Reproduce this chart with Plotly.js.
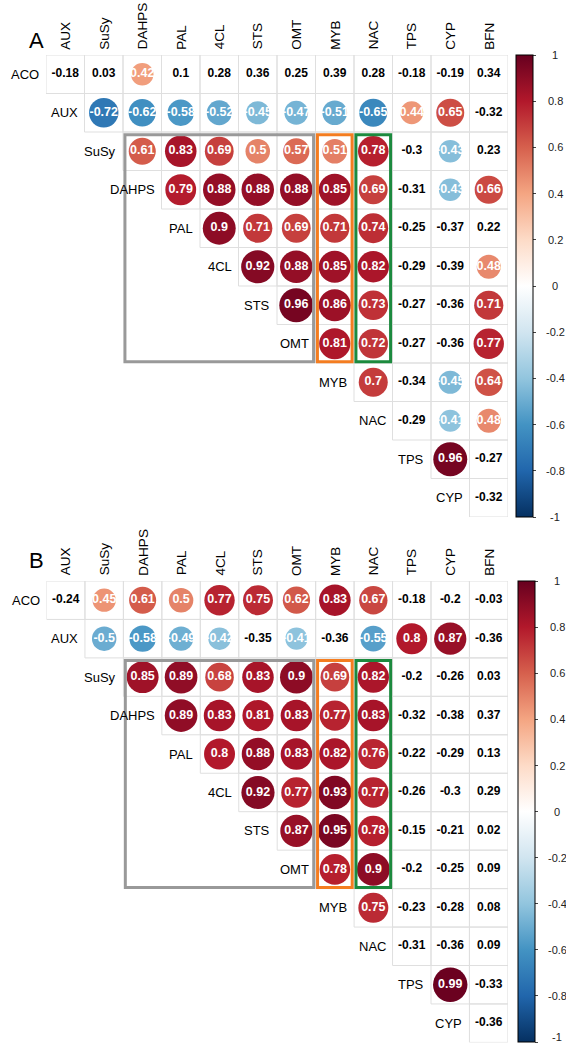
<!DOCTYPE html>
<html><head><meta charset="utf-8">
<script src="https://cdn.plot.ly/plotly-3.0.1.min.js"></script>
<style>html,body{margin:0;padding:0;background:#fff;}#chart{width:566px;height:1045px;}</style>
</head><body><div id="chart"></div>
<script>
// ---- data ----
const rowLabels = ["ACO","AUX","SuSy","DAHPS","PAL","4CL","STS","OMT","MYB","NAC","TPS","CYP"];
const colLabels = ["AUX","SuSy","DAHPS","PAL","4CL","STS","OMT","MYB","NAC","TPS","CYP","BFN"];

// Panel A (upper triangle, row by row, starting at the diagonal column)
const A_ACO   = [-0.18, 0.03, 0.42, 0.1, 0.28, 0.36, 0.25, 0.39, 0.28, -0.18, -0.19, 0.34];
const A_AUX   = [-0.72, -0.62, -0.58, -0.52, -0.45, -0.47, -0.51, -0.65, 0.44, 0.65, -0.32];
const A_SuSy  = [0.61, 0.83, 0.69, 0.5, 0.57, 0.51, 0.78, -0.3, -0.43, 0.23];
const A_DAHPS = [0.79, 0.88, 0.88, 0.88, 0.85, 0.69, -0.31, -0.43, 0.66];
const A_PAL   = [0.9, 0.71, 0.69, 0.71, 0.74, -0.25, -0.37, 0.22];
const A_4CL   = [0.92, 0.88, 0.85, 0.82, -0.29, -0.39, 0.48];
const A_STS   = [0.96, 0.86, 0.73, -0.27, -0.36, 0.71];
const A_OMT   = [0.81, 0.72, -0.27, -0.36, 0.77];
const A_MYB   = [0.7, -0.34, -0.45, 0.64];
const A_NAC   = [-0.29, -0.41, 0.48];
const A_TPS   = [0.96, -0.27];
const A_CYP   = [-0.32];

// Panel B
const B_ACO   = [-0.24, 0.45, 0.61, 0.5, 0.77, 0.75, 0.62, 0.83, 0.67, -0.18, -0.2, -0.03];
const B_AUX   = [-0.5, -0.58, -0.49, -0.42, -0.35, -0.41, -0.36, -0.55, 0.8, 0.87, -0.36];
const B_SuSy  = [0.85, 0.89, 0.68, 0.83, 0.9, 0.69, 0.82, -0.2, -0.26, 0.03];
const B_DAHPS = [0.89, 0.83, 0.81, 0.83, 0.77, 0.83, -0.32, -0.38, 0.37];
const B_PAL   = [0.8, 0.88, 0.83, 0.82, 0.76, -0.22, -0.29, 0.13];
const B_4CL   = [0.92, 0.77, 0.93, 0.77, -0.26, -0.3, 0.29];
const B_STS   = [0.87, 0.95, 0.78, -0.15, -0.21, 0.02];
const B_OMT   = [0.78, 0.9, -0.2, -0.25, 0.09];
const B_MYB   = [0.75, -0.23, -0.28, 0.08];
const B_NAC   = [-0.31, -0.36, 0.09];
const B_TPS   = [0.99, -0.33];
const B_CYP   = [-0.36];

const panelA = [A_ACO, A_AUX, A_SuSy, A_DAHPS, A_PAL, A_4CL, A_STS, A_OMT, A_MYB, A_NAC, A_TPS, A_CYP];
const panelB = [B_ACO, B_AUX, B_SuSy, B_DAHPS, B_PAL, B_4CL, B_STS, B_OMT, B_MYB, B_NAC, B_TPS, B_CYP];

const colorbarTicks = [1, 0.8, 0.6, 0.4, 0.2, 0, -0.2, -0.4, -0.6, -0.8, -1];
const sigThreshold = 0.4;  // |r| below this is shown as text only

// ---- styling / layout ----
const W = 566, H = 1045;
const FONT = "Liberation Sans, Arial, Helvetica, sans-serif";
const rdbuColors = ["#053061","#2166AC","#4393C3","#92C5DE","#D1E5F0","#FFFFFF","#FDDBC7","#F4A582","#D6604D","#B2182B","#67001F"];
const colorscale = rdbuColors.map((c, k) => [k / (rdbuColors.length - 1), c]);

const panels = [
  {name: "A", rows: panelA, left: 46,   top: 55,  cell: 38.5,  cbLeft: 516, letterY: 40.5, xa: "x",  ya: "y",  xk: "xaxis",  yk: "yaxis"},
  {name: "B", rows: panelB, left: 46.5, top: 581, cell: 38.45, cbLeft: 518, letterY: 560.5, xa: "x2", ya: "y2", xk: "xaxis2", yk: "yaxis2"}
];

const traces = [];
const shapes = [];
const annotations = [];
const layout = {
  width: W, height: H, autosize: false,
  margin: {l: 0, r: 0, t: 0, b: 0, pad: 0},
  paper_bgcolor: "#fff", plot_bgcolor: "#fff",
  showlegend: false,
  font: {family: FONT, color: "#000"}
};

panels.forEach(p => {
  const n = colLabels.length;
  const span = n * p.cell;
  layout[p.xk] = {domain: [p.left / W, (p.left + span) / W], range: [-0.5, n - 0.5], visible: false, fixedrange: true};
  layout[p.yk] = {domain: [1 - (p.top + span) / H, 1 - p.top / H], range: [n - 0.5, -0.5], visible: false, fixedrange: true};

  const sx = [], sy = [], sv = [], ss = [], st = [];
  const ix = [], iy = [], it = [];
  p.rows.forEach((vals, i) => {
    vals.forEach((v, k) => {
      const j = i + k;
      shapes.push({type: "rect", xref: p.xa, yref: p.ya, x0: j - 0.5, x1: j + 0.5, y0: i - 0.5, y1: i + 0.5,
                   line: {color: "#dfdfdf", width: 1}, layer: "below"});
      if (Math.abs(v) >= sigThreshold) {
        sx.push(j); sy.push(i); sv.push(v); st.push(String(v));
        ss.push(0.9 * Math.sqrt(Math.abs(v)) * p.cell);
      } else {
        ix.push(j); iy.push(i); it.push(String(v));
      }
    });
    // row label
    annotations.push({xref: p.xa, yref: p.ya, x: i - 0.5, y: i, xshift: -5, xanchor: "right", yanchor: "middle",
                      text: rowLabels[i], showarrow: false, font: {family: FONT, size: 13, color: "#000"}});
  });

  traces.push({
    type: "scatter", mode: "markers+text", xaxis: p.xa, yaxis: p.ya,
    x: sx, y: sy, text: st, textposition: "middle center",
    textfont: {family: FONT, size: 12.5, color: "#fff", weight: "bold"},
    hoverinfo: "skip", cliponaxis: false,
    marker: {size: ss, color: sv, cmin: -1, cmax: 1, colorscale: colorscale, line: {width: 0}, opacity: 1,
      showscale: true,
      colorbar: {x: p.cbLeft / W, xanchor: "left", y: 1 - p.top / H, yanchor: "top",
        len: span, lenmode: "pixels", thickness: 17, thicknessmode: "pixels",
        xpad: 0, ypad: 0, outlinewidth: 1, outlinecolor: "#000", borderwidth: 0,
        tickmode: "array", tickvals: colorbarTicks, ticks: "outside", ticklen: 3, tickwidth: 1, tickcolor: "#444",
        showticklabels: false}}
  });
  traces.push({
    type: "scatter", mode: "text", xaxis: p.xa, yaxis: p.ya,
    x: ix, y: iy, text: it, textposition: "middle center",
    textfont: {family: FONT, size: 12, color: "#000", weight: "bold"},
    hoverinfo: "skip", cliponaxis: false
  });

  // column labels
  colLabels.forEach((c, j) => {
    annotations.push({xref: p.xa, yref: "paper", x: j, y: 1 - (p.top - 3.5) / H, xanchor: "center", yanchor: "bottom",
                      textangle: -90, text: c, showarrow: false, font: {family: FONT, size: 13.5, color: "#000"}});
  });

  // colorbar tick labels (kept inside the page)
  colorbarTicks.forEach(v => {
    const py = p.top + (1 - v) / 2 * span;
    const fits = py + 9 <= H;
    annotations.push({xref: "paper", yref: "paper", x: (p.cbLeft + 39) / W,
                      y: fits ? 1 - py / H : 0,
                      xanchor: "center", yanchor: fits ? "middle" : "bottom", text: String(v), showarrow: false,
                      font: {family: FONT, size: 11, color: "#222"}});
  });

  // panel letter
  annotations.push({xref: "paper", yref: "paper", x: 36 / W, y: 1 - p.letterY / H, xanchor: "center", yanchor: "middle",
                    text: p.name, showarrow: false, font: {family: FONT, size: 22, color: "#000"}});

  // highlight boxes
  const sIn = 0.05, tIn = 0.07, bIn = 0.03;
  const boxes = [
    {x0: 1.5, x1: 6.5, color: "#999999"},
    {x0: 6.5, x1: 7.5, color: "#F47D20"},
    {x0: 7.5, x1: 8.5, color: "#1C8A3E"}
  ];
  boxes.forEach(b => {
    shapes.push({type: "rect", xref: p.xa, yref: p.ya, x0: b.x0 + sIn, x1: b.x1 - sIn, y0: 1.5 + tIn, y1: 7.5 - bIn,
                 line: {color: b.color, width: 3}, fillcolor: "rgba(0,0,0,0)", layer: "above"});
  });
});

layout.shapes = shapes;
layout.annotations = annotations;

Plotly.newPlot("chart", traces, layout, {staticPlot: true, displayModeBar: false});
</script>
</body></html>
